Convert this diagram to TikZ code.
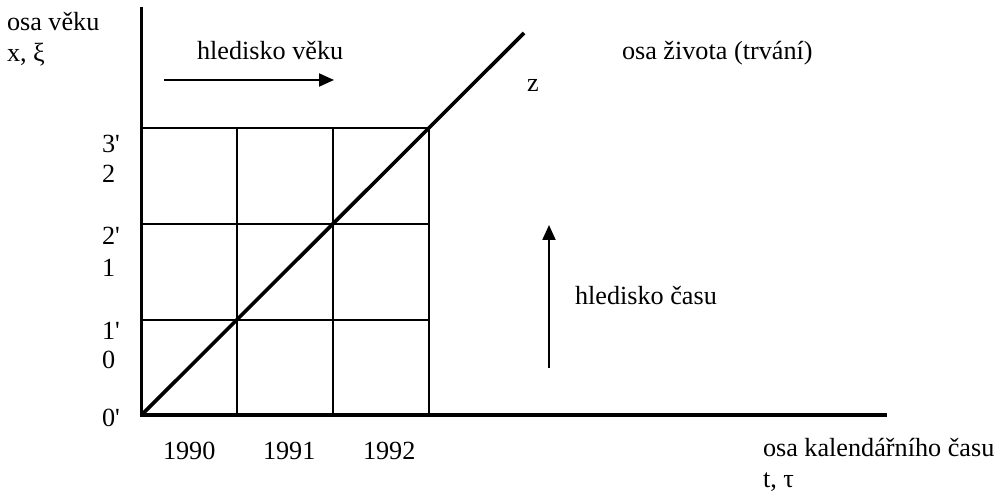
\documentclass[tikz,border=0pt]{standalone}
\usepackage{fontspec}
\setmainfont{Liberation Serif}
\usetikzlibrary{arrows.meta}
\begin{document}
\begin{tikzpicture}[x=1pt,y=-1pt,
  axisline/.style={line width=3.6pt, line cap=rect},
  gridline/.style={line width=1.8pt},
  diagline/.style={line width=3.6pt},
  viewarrow/.style={line width=2pt, -{Triangle[length=15pt,width=13pt]}},
  lbl/.style={anchor=base west, inner sep=0pt, outer sep=0pt, font=\fontsize{26.2}{30}\selectfont}]
\useasboundingbox (0,0) rectangle (1002,502);
% axes
\coordinate (O) at (141.5,415);
\coordinate (Ytop) at (141.5,9);
\coordinate (Xend) at (885,415);
\coordinate (Zend) at (524,33);
% grid coordinates
\coordinate (a1) at (237,415); \coordinate (a1t) at (237,128);
\coordinate (a2) at (333,415); \coordinate (a2t) at (333,128);
\coordinate (a3) at (429,415); \coordinate (a3t) at (429,128);
\coordinate (h1) at (141.5,320); \coordinate (h1r) at (429,320);
\coordinate (h2) at (141.5,224); \coordinate (h2r) at (429,224);
\coordinate (h3) at (141.5,128); \coordinate (h3r) at (429,128);
\draw[gridline] (a1) -- (a1t);
\draw[gridline] (a2) -- (a2t);
\draw[gridline] (a3) -- (a3t);
\draw[gridline] (h1) -- (h1r);
\draw[gridline] (h2) -- (h2r);
\draw[gridline] (h3) -- (h3r);
\draw[diagline] (O) -- (Zend);
\draw[axisline] (Ytop) -- (O) -- (Xend);
% view arrows
\coordinate (va1) at (164,80); \coordinate (va2) at (334,80);
\draw[viewarrow] (va1) -- (va2);
\coordinate (vb1) at (549,368); \coordinate (vb2) at (549,225);
\draw[viewarrow] (vb1) -- (vb2);
% labels
\node[lbl] (ly1) at (7,31) {osa věku};
\node[lbl] (ly2) at (7,62) {x, ξ};
\node[lbl] (lhv) at (197,60) {hledisko věku};
\node[lbl] (lz) at (527,92) {z};
\node[lbl] (lzo) at (622,60) {osa života (trvání)};
\node[lbl] (lhc) at (575,305) {hledisko času};
\node[lbl] (l3p) at (102,153) {3\textquotesingle};
\node[lbl] (l2) at (102,183) {2};
\node[lbl] (l2p) at (102,245) {2\textquotesingle};
\node[lbl] (l1) at (102,277) {1};
\node[lbl] (l1p) at (102,340) {1\textquotesingle};
\node[lbl] (l0) at (102,369) {0};
\node[lbl] (l0p) at (102,427) {0\textquotesingle};
\node[lbl] (y90) at (163,460) {1990};
\node[lbl] (y91) at (263,460) {1991};
\node[lbl] (y92) at (363,460) {1992};
\node[lbl] (lx1) at (763,457) {osa kalendářního času};
\node[lbl] (lx2) at (763,488) {t, τ};
\end{tikzpicture}
\end{document}
